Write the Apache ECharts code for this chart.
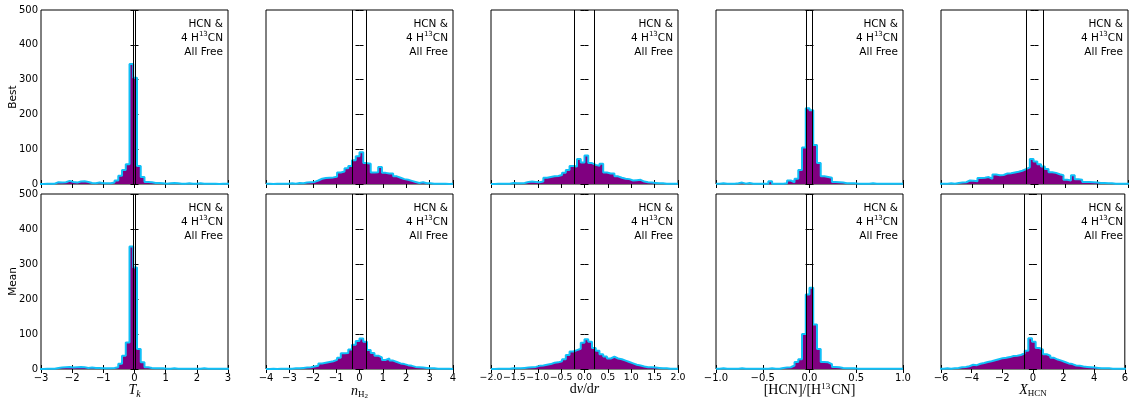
<!DOCTYPE html>
<html><head><meta charset="utf-8">
<script src="https://cdn.jsdelivr.net/npm/echarts@6/dist/echarts.min.js"></script>
<style>html,body{margin:0;padding:0;background:#fff}#c{width:1131px;height:403px}</style>
</head><body><div id="c"></div>
<script>
// ---- data ----
const xMin = [-3, -4, -2, -1, -6];
const xMax = [3, 4, 2, 1, 6];
const xStep = [1, 1, 0.5, 0.5, 2];
const xDecimals = [0, 0, 1, 1, 0];
const rowNames = ['Best', 'Mean'];
const yTicks = [0, 100, 200, 300, 400, 500];

// histogram bins: first edge and bin width per column
const binStart = [-3.04, -4, -2, -1, -6.06];
const binWidth = [0.12, 0.16, 0.08, 0.04, 0.24];

const tkBest = [0,1,1,1,5,4,5,9,6,4, 7,8,6,3,2,4,2,2,2,4, 10,24,40,57,345,305,52,20,6,5, 3,3,2,1,2,3,2,1,1,2, 1,1,2,1,1,1,1,0,1,1, 1];
const tkMean = [0,1,1,1,3,4,5,6,4,5, 6,5,3,4,3,3,2,2,2,3, 5,15,38,76,350,290,57,19,5,3, 2,2,2,1,1,2,1,1,1,1, 1,1,1,2,1,1,1,1,1,1, 1];
const nh2Best = [1,0,1,1,1,1,2,1,3,2, 4,5,6,10,15,17,18,19,21,33, 36,45,52,68,80,91,60,58,33,34, 49,32,30,30,22,18,14,12,9,6, 3,5,2,2,1,1,1,1,0,1];
const nh2Mean = [0,1,0,1,1,1,1,2,2,3, 4,5,7,9,16,18,20,22,26,32, 45,46,56,69,80,87,78,54,46,38, 33,26,30,24,20,16,14,11,9,6, 5,4,3,2,2,1,1,1,1,0];
const dvdrBest = [0,1,1,1,1,3,2,2,3,6, 7,6,5,7,18,20,22,23,26,32, 40,52,50,72,62,82,60,55,52,58, 33,30,30,22,18,15,14,10,11,12, 7,5,4,3,2,2,1,1,1,1];
const dvdrMean = [0,1,1,1,1,2,2,2,3,4, 5,6,9,10,12,14,18,19,22,28, 40,50,54,58,75,85,78,60,52,42, 36,30,35,30,28,24,20,16,12,10, 7,5,5,4,3,2,2,1,1,1];
const ratioBest = [1,2,1,1,1,2,4,1,3,1, 1,1,1,1,8,1,1,1,2,10, 5,15,40,105,218,212,112,60,22,20, 18,6,5,4,2,2,2,1,1,1, 1,2,1,1,1,1,1,1,1,1];
const ratioMean = [1,2,1,1,1,1,2,1,1,1, 1,1,1,1,2,1,1,3,4,5, 10,20,28,100,213,232,127,57,20,19, 14,6,5,3,2,2,2,1,1,1, 1,1,1,1,1,1,1,1,1,1];
const xhcnBest = [1,1,2,1,3,4,5,10,9,8, 17,18,20,15,27,25,26,30,31,33, 35,38,43,48,72,65,57,50,43,34, 32,28,25,12,10,25,14,12,6,6, 5,4,3,3,2,2,1,1,1,1, 1];
const xhcnMean = [1,2,1,2,3,5,6,8,12,11, 15,17,20,22,25,28,31,32,34,37, 38,40,45,52,88,78,60,55,42,38, 32,27,24,20,16,14,10,9,7,6, 5,4,3,2,2,2,1,1,1,1, 1];

const vLines = [[-0.04, 0.04], [-0.3, 0.31], [-0.22, 0.2], [-0.035, 0.028], [-0.56, 0.53]];

const counts = [
  [tkBest, nh2Best, dvdrBest, ratioBest, xhcnBest],
  [tkMean, nh2Mean, dvdrMean, ratioMean, xhcnMean]
];

const axisNames = [
  '{i|T}{is|k}',
  '{i|n}{rs|H}{rss|2}',
  '{r|d}{i|v}{r|/d}{i|r}',
  '{r|[HCN]/[H}{rsup|13}{r|CN]}',
  '{i|X}{rs|HCN}'
];
const annotation = 'HCN &\n4 H{sup|13}CN\nAll Free';

// ---- layout ----
const gLeft = [41, 266, 491, 716, 941];
const gWidth = 187;
const gTop = [10, 194];
const gHeight = [174, 175];
const tickFont = [10, 10, 9.4, 10, 10];

const serif = 'Liberation Serif';
const sans = 'DejaVu Sans';
const nameRich = {
  i:   {fontFamily: serif, fontStyle: 'italic', fontSize: 14, color: '#000'},
  r:   {fontFamily: serif, fontSize: 14, color: '#000'},
  is:  {fontFamily: serif, fontStyle: 'italic', fontSize: 10, padding: [7, 0, 0, 0], color: '#000'},
  rs:  {fontFamily: serif, fontSize: 9, padding: [7, 0, 0, 0], color: '#000'},
  rss: {fontFamily: serif, fontSize: 7, padding: [11, 0, 0, 0], color: '#000'},
  rsup:{fontFamily: serif, fontSize: 9, padding: [0, 1, 8, 0], color: '#000'}
};

function fmt(d) {
  return v => (v < 0 ? '\u2212' : '') + Math.abs(v).toFixed(d);
}
function stepData(arr, start, w) {
  const d = arr.map((c, i) => [start + i * w, c]);
  d.push([start + arr.length * w, arr[arr.length - 1]]);
  return d;
}

const grid = [], xAxis = [], yAxis = [], series = [], graphic = [];
for (let r = 0; r < 2; r++) {
  for (let c = 0; c < 5; c++) {
    grid.push({left: gLeft[c], top: gTop[r], width: gWidth, height: gHeight[r],
      show: true, borderColor: '#000', borderWidth: 1, backgroundColor: 'transparent', containLabel: false});
  }
}
const tickStyle = {show: true, inside: true, length: 4, lineStyle: {color: '#000', width: 1}};
for (let side = 0; side < 2; side++) {
  for (let r = 0; r < 2; r++) {
    for (let c = 0; c < 5; c++) {
      const k = r * 5 + c;
      const bottom = side === 0;
      const xa = {
        gridIndex: k, type: 'value', min: xMin[c], max: xMax[c], interval: xStep[c],
        position: bottom ? 'bottom' : 'top',
        axisLine: {show: false}, axisTick: tickStyle, splitLine: {show: false},
        axisLabel: {show: bottom && r === 1, showMinLabel: true, showMaxLabel: true, hideOverlap: false,
          formatter: fmt(xDecimals[c]), fontFamily: sans, fontSize: tickFont[c], color: '#000', margin: 4}
      };
      if (bottom && r === 1) {
        xa.name = axisNames[c];
        xa.nameLocation = 'middle';
        xa.nameGap = 13;
        xa.nameMoveOverlap = false;
        xa.nameTextStyle = {rich: nameRich, color: '#000'};
      }
      xAxis.push(xa);
      const ya = {
        gridIndex: k, type: 'value', min: yTicks[0], max: yTicks[yTicks.length - 1], interval: yTicks[1] - yTicks[0],
        position: bottom ? 'left' : 'right',
        axisLine: {show: false}, axisTick: tickStyle, splitLine: {show: false},
        axisLabel: {show: bottom && c === 0, showMinLabel: true, showMaxLabel: true,
          fontFamily: sans, fontSize: 10, color: '#000', margin: 3}
      };
      if (bottom && c === 0) {
        ya.name = rowNames[r];
        ya.nameLocation = 'middle';
        ya.nameGap = 22;
        ya.nameMoveOverlap = false;
        ya.nameRotate = 90;
        ya.nameTextStyle = {fontFamily: sans, fontSize: 10.5, color: '#000'};
      }
      yAxis.push(ya);
    }
  }
}
for (let r = 0; r < 2; r++) {
  for (let c = 0; c < 5; c++) {
    const k = r * 5 + c;
    series.push({
      type: 'line', xAxisIndex: k, yAxisIndex: k, step: 'end', showSymbol: false, symbol: 'none',
      data: stepData(counts[r][c], binStart[c], binWidth[c]),
      lineStyle: {color: '#10c0f8', width: 2},
      areaStyle: {color: '#800080', opacity: 1},
      z: 2, silent: true, animation: false,
      markLine: {
        silent: true, symbol: ['none', 'none'], label: {show: false},
        lineStyle: {color: '#000', width: 1, type: 'solid'},
        emphasis: {disabled: true},
        data: vLines[c].map(v => ({xAxis: v})),
        animation: false
      }
    });
    graphic.push({
      type: 'text', x: gLeft[c] + gWidth - 5, y: gTop[r] + 7, z: 100,
      style: {
        text: annotation, align: 'right', verticalAlign: 'top',
        fontFamily: sans, fontSize: 10.5, lineHeight: 14, fill: '#000',
        rich: {sup: {fontFamily: sans, fontSize: 7, lineHeight: 8, verticalAlign: 'top', fill: '#000'}}
      }
    });
  }
}

const chart = echarts.init(document.getElementById('c'), null, {renderer: 'canvas'});
chart.setOption({
  animation: false, backgroundColor: '#fff',
  grid, xAxis, yAxis, series, graphic
});
</script></body></html>
